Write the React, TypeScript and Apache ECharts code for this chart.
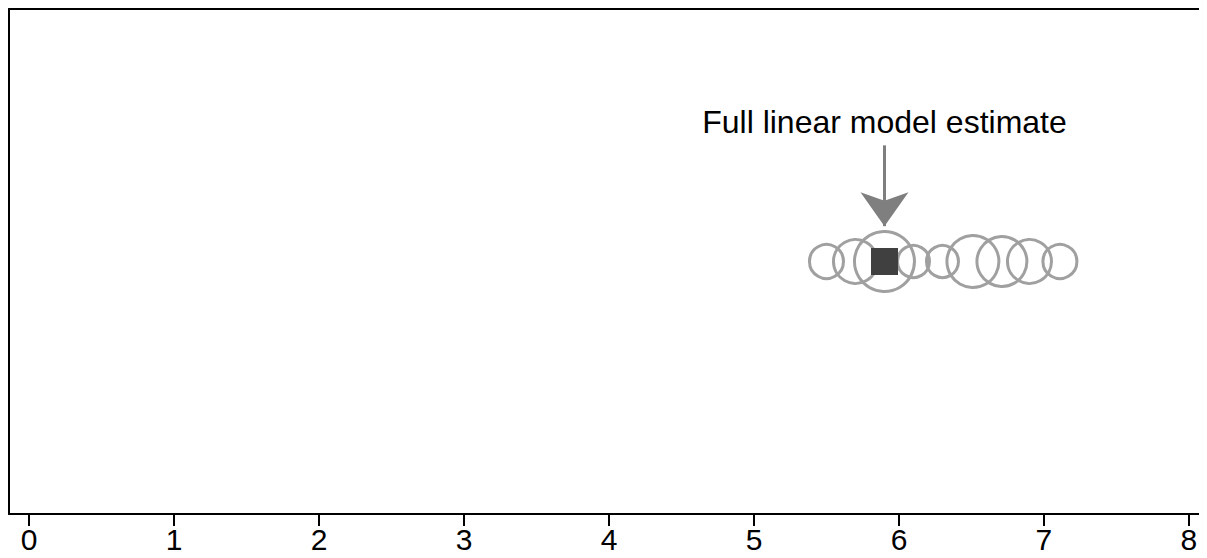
import React, { useEffect, useRef } from "react";
import * as echarts from "echarts";

const tickValues = [0, 1, 2, 3, 4, 5, 6, 7, 8];
const subsetEstimates = [5.5, 5.7, 5.9, 6.1, 6.3, 6.51, 6.71, 6.9, 7.11];
const subsetSizes = [34, 44, 60, 32, 32, 52, 50, 44, 34];
const fullEstimate = 5.9;
const rowLevel = 0.5;
const annotationText = "Full linear model estimate";
const arrowStart = 0.73;
const arrowEnd = 0.57;

export default function App() {
  const ref = useRef<HTMLDivElement>(null);
  useEffect(() => {
    if (!ref.current) return;
    const chart = echarts.init(ref.current, undefined, { renderer: "svg" });
    const font = "'Liberation Sans', Arial, sans-serif";
    const xMin = -0.138;
    const xMax = 8.152;
    chart.setOption({
      animation: false,
      grid: { left: 1, right: -4, top: 1, bottom: 44, outerBoundsMode: "none", containLabel: false },
      graphic: [
        {
          type: "rect",
          right: 0,
          top: 3,
          shape: { width: 13, height: 500 },
          style: { fill: "#fff" },
          z: 100,
          silent: true,
        },
      ],
      xAxis: [
        {
          type: "value",
          min: xMin,
          max: xMax,
          position: "bottom",
          splitLine: { show: false },
          axisLine: { show: true, onZero: false, lineStyle: { color: "#000", width: 2 } },
          axisTick: {
            show: true,
            length: 12,
            customValues: tickValues,
            lineStyle: { color: "#000", width: 2 },
          },
          axisLabel: {
            customValues: tickValues,
            color: "#000",
            fontSize: 30,
            fontFamily: font,
            margin: 10,
          },
        },
        {
          type: "value",
          min: xMin,
          max: xMax,
          position: "top",
          splitLine: { show: false },
          axisLine: { show: true, onZero: false, lineStyle: { color: "#000", width: 2 } },
          axisTick: { show: false },
          axisLabel: { show: false },
        },
      ],
      yAxis: {
        type: "value",
        min: 0,
        max: 1,
        position: "left",
        splitLine: { show: false },
        axisLine: { show: true, onZero: false, lineStyle: { color: "#000", width: 2 } },
        axisTick: { show: false },
        axisLabel: { show: false },
      },
      series: [
        {
          type: "scatter",
          xAxisIndex: 0,
          data: subsetEstimates.map((v, i) => [v, rowLevel, subsetSizes[i]]),
          symbol: "circle",
          symbolSize: (d: number[]) => d[2],
          itemStyle: { color: "rgba(0,0,0,0)", borderColor: "#a0a0a0", borderWidth: 3, opacity: 1 },
          z: 2,
        },
        {
          type: "scatter",
          xAxisIndex: 0,
          data: [[fullEstimate, rowLevel]],
          symbol: "rect",
          symbolSize: 27,
          itemStyle: { color: "#404040", opacity: 1 },
          z: 3,
          markLine: {
            silent: true,
            symbol: ["none", "arrow"],
            symbolSize: [36, 34],
            lineStyle: { color: "#7f7f7f", width: 3, type: "solid" },
            label: {
              show: true,
              position: "start",
              distance: 7,
              formatter: annotationText,
              color: "#000",
              fontSize: 32,
              fontFamily: font,
            },
            data: [
              [
                { coord: [fullEstimate, arrowStart] },
                { coord: [fullEstimate, arrowEnd] },
              ],
            ],
          },
        },
      ],
    });
    return () => chart.dispose();
  }, []);
  return <div ref={ref} style={{ width: 1199, height: 550, marginBottom: -8 }} />;
}
